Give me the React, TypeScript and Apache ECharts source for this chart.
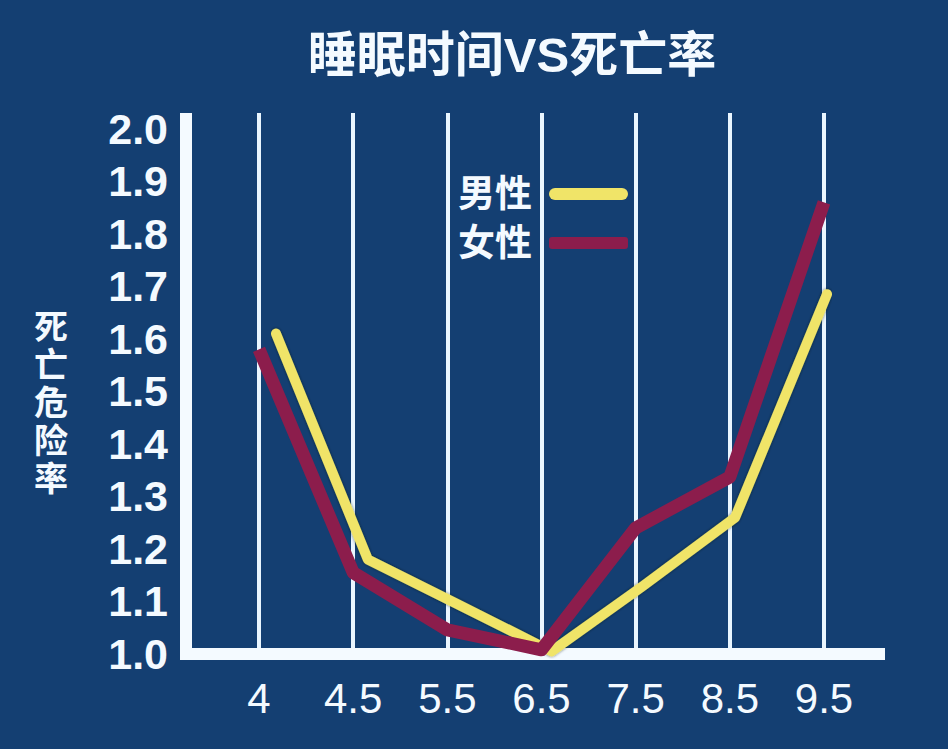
import React, { useEffect, useRef } from "react";
import * as echarts from "echarts";

const categories = ["4", "4.5", "5.5", "6.5", "7.5", "8.5", "9.5"];
const maleValues = [1.61, 1.18, 1.093, 1.005, 1.13, 1.26, 1.685];
const femaleValues = [1.58, 1.155, 1.046, 1.008, 1.24, 1.337, 1.86];
const seriesNames = ["男性", "女性"];
const titleText = "睡眠时间VS死亡率";
const yAxisName = "死亡危险率";

const BG = "#143f72";
const YELLOW = "#f0e468";
const RED = "#8c1d4c";
const WHITE = "#f4faff";
const FONT = "'Liberation Sans', 'Noto Sans CJK SC', sans-serif";

export default function App() {
  const ref = useRef<HTMLDivElement>(null);
  useEffect(() => {
    if (!ref.current) return;
    const chart = echarts.init(ref.current, null, { renderer: "svg" });
    const yRange = { min: 1.0, max: 2.03 };
    const grids = [
      { left: 186, right: 69, top: 113, bottom: 95 },
      { left: 259, right: 124, top: 113, bottom: 95 },
      { left: 276, right: 121, top: 113, bottom: 95 },
    ];
    chart.setOption({
      animation: false,
      backgroundColor: BG,
      title: {
        text: titleText,
        left: 507,
        textAlign: "center",
        top: 25,
        textStyle: { color: WHITE, fontSize: 49, fontWeight: "bold", fontFamily: FONT },
      },
      legend: {
        orient: "vertical",
        left: 453,
        top: 169,
        align: "right",
        itemWidth: 79,
        itemHeight: 12,
        itemGap: 9,
        data: [
          { name: seriesNames[0], icon: "path://M6,0 L73,0 A6,6 0 0 1 73,12 L6,12 A6,6 0 0 1 6,0 Z" },
          { name: seriesNames[1], icon: "path://M3,0 L76,0 A3,3 0 0 1 79,3 L79,9 A3,3 0 0 1 76,12 L3,12 A3,3 0 0 1 0,9 L0,3 A3,3 0 0 1 3,0 Z" },
        ],
        textStyle: {
          color: WHITE,
          fontSize: 37,
          fontWeight: "bold",
          fontFamily: FONT,
          lineHeight: 40,
          padding: [0, 12, 0, 0],
        },
      },
      grid: grids,
      xAxis: [
        {
          type: "value",
          gridIndex: 0,
          min: 0,
          max: 1,
          axisLine: { show: true, onZero: false, lineStyle: { color: WHITE, width: 12, cap: "square" } },
          axisTick: { show: false },
          axisLabel: { show: false },
          splitLine: { show: false },
        },
        {
          type: "category",
          gridIndex: 1,
          data: categories,
          boundaryGap: false,
          axisLine: { show: false },
          axisTick: { show: false },
          axisLabel: {
            interval: 0,
            color: WHITE,
            fontSize: 42,
            fontFamily: FONT,
            margin: 23,
          },
          splitLine: { show: true, interval: 0, lineStyle: { color: "#eaf6ff", width: 4 } },
        },
        {
          type: "category",
          gridIndex: 2,
          data: categories,
          boundaryGap: false,
          show: false,
        },
      ],
      yAxis: [
        {
          type: "value",
          gridIndex: 0,
          min: yRange.min,
          max: yRange.max,
          interval: 0.1,
          name: "\n" + yAxisName.split("").join("\n"),
          nameLocation: "middle",
          nameRotate: 0,
          nameGap: 118,
          nameTextStyle: {
            color: WHITE,
            fontSize: 34,
            fontWeight: "bold",
            fontFamily: FONT,
            lineHeight: 38,
          },
          axisLine: { show: true, lineStyle: { color: WHITE, width: 12, cap: "butt" } },
          axisTick: { show: false },
          splitLine: { show: false },
          axisLabel: {
            showMaxLabel: false,
            color: WHITE,
            fontSize: 43,
            fontWeight: "bold",
            fontFamily: FONT,
            margin: 18,
            formatter: (v: number) => (Math.abs(v * 10 - Math.round(v * 10)) < 1e-6 ? v.toFixed(1) : ""),
          },
        },
        { type: "value", gridIndex: 1, min: yRange.min, max: yRange.max, show: false },
        { type: "value", gridIndex: 2, min: yRange.min, max: yRange.max, show: false },
      ],
      series: [
        {
          name: seriesNames[0],
          type: "line",
          xAxisIndex: 2,
          yAxisIndex: 2,
          data: maleValues,
          symbol: "none",
          color: YELLOW,
          lineStyle: {
            color: YELLOW,
            width: 10,
            cap: "round",
            join: "round",
            shadowColor: "rgba(10,30,10,0.6)",
            shadowBlur: 3,
          },
          z: 3,
        },
        {
          name: seriesNames[1],
          type: "line",
          xAxisIndex: 1,
          yAxisIndex: 1,
          data: femaleValues,
          symbol: "none",
          color: RED,
          lineStyle: { color: RED, width: 13, join: "round", cap: "butt" },
          z: 4,
        },
      ],
    });
    return () => chart.dispose();
  }, []);
  return (
    <div
      ref={ref}
      style={{ position: "absolute", left: 0, top: 0, width: 948, height: 749 }}
    />
  );
}
